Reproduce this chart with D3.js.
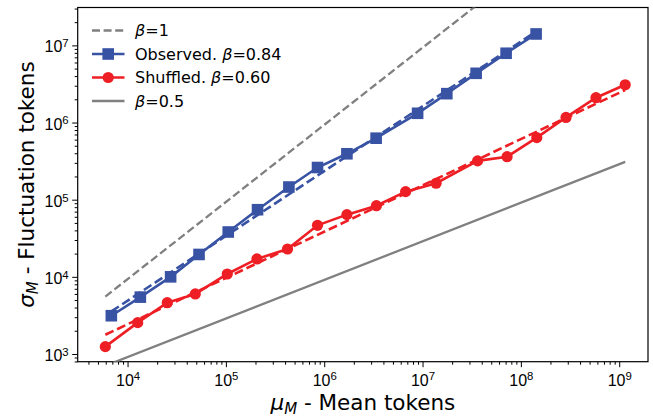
<!DOCTYPE html>
<html>
<head>
<meta charset="utf-8">
<script src="https://cdn.jsdelivr.net/npm/d3@7"></script>
<style>
  body { margin: 0; background: #fff; }
  svg { font-family: "DejaVu Sans", sans-serif; }
</style>
</head>
<body>
<svg id="chart" width="653" height="419"></svg>
<script>
// observed (blue squares)
const obsX = [6840, 13490, 27420, 53330, 105700, 209900, 437500, 855100, 1702000, 3373000,
              8913000, 17660000, 35080000, 70790000, 142900000];
const obsY = [3133, 5458, 10000, 19500, 38110, 74130, 145900, 261200, 393600, 626600,
              1318000, 2366000, 4345000, 7907000, 14060000];

// shuffled (red circles)
const shufX = [5943, 12680, 25350, 48870, 103300, 207000, 423600, 855100, 1702000, 3396000,
               6730000, 13740000, 36310000, 72440000, 145200000, 287700000, 580800000, 1151000000];
const shufY = [1245, 2547, 4624, 5998, 10890, 17060, 22960, 46560, 63970, 83560,
               127100, 163300, 318400, 360600, 636800, 1164000, 2099000, 3090000];

// power law guide / fit lines: sigma = pref * mu^beta
const fitNames = ["beta1", "obsFit", "shufFit", "beta05"];
const fitBeta = [1, 0.84, 0.60, 0.5];
const fitPref = [0.933, 2.138, 9.66, 9.12];
const fitFrom = [5943, 6840, 5943, 5943];
const fitTo = [1151000000, 142900000, 1151000000, 1151000000];

const xTickExp = [4, 5, 6, 7, 8, 9];
const yTickExp = [3, 4, 5, 6, 7];

const legendLabels = ["=1", "Observed. ", "Shuffled. ", "=0.5"];
const legendBeta = ["", "=0.84", "=0.60", ""];

const BLUE = "#3953a4", RED = "#ed1f24", GRAY = "#808080";

const svg = d3.select("#chart");
const pL = 77.7, pR = 648, pT = 7.5, pB = 361.7;

const x = d3.scaleLog().domain([Math.pow(10, 3.493), Math.pow(10, 9.293)]).range([pL, pR]);
const y = d3.scaleLog().domain([Math.pow(10, 2.900), Math.pow(10, 7.491)]).range([pB, pT]);

svg.append("defs").append("clipPath").attr("id", "clip")
  .append("rect").attr("x", pL).attr("y", pT)
  .attr("width", pR - pL).attr("height", pB - pT);

// minor ticks
function minors(scale) {
  const [a, b] = scale.domain();
  const out = [];
  for (let e = Math.floor(Math.log10(a)); e <= Math.ceil(Math.log10(b)); e++) {
    for (let m = 2; m <= 9; m++) {
      const v = m * Math.pow(10, e);
      if (v >= a && v <= b) out.push(v);
    }
  }
  return out;
}

const xMajor = xTickExp.map(e => Math.pow(10, e));
const yMajor = yTickExp.map(e => Math.pow(10, e));

function styleAxis(g) {
  g.select(".domain").remove();
  g.selectAll("line").attr("stroke", "#000").attr("stroke-width", 1);
}

svg.append("g").attr("transform", `translate(0,${pB})`)
  .call(d3.axisBottom(x).tickValues(minors(x)).tickSize(3).tickFormat(""))
  .call(styleAxis);
svg.append("g").attr("transform", `translate(${pL},0)`)
  .call(d3.axisLeft(y).tickValues(minors(y)).tickSize(3).tickFormat(""))
  .call(styleAxis);

const gx = svg.append("g").attr("transform", `translate(0,${pB})`)
  .call(d3.axisBottom(x).tickValues(xMajor).tickSize(5.5).tickFormat(""))
  .call(styleAxis);
gx.selectAll(".tick text").remove();
gx.selectAll(".tick").each(function (d) {
  const t = d3.select(this).append("text")
    .attr("y", 24).attr("text-anchor", "middle")
    .attr("fill", "#000").attr("font-size", 16);
  t.append("tspan").text("10");
  t.append("tspan").attr("font-size", 11.4).attr("dy", -5.5).text(Math.round(Math.log10(d)));
});

const gy = svg.append("g").attr("transform", `translate(${pL},0)`)
  .call(d3.axisLeft(y).tickValues(yMajor).tickSize(5.5).tickFormat(""))
  .call(styleAxis);
gy.selectAll(".tick text").remove();
gy.selectAll(".tick").each(function (d) {
  const t = d3.select(this).append("text")
    .attr("x", -9).attr("y", 6.6).attr("text-anchor", "end")
    .attr("fill", "#000").attr("font-size", 16);
  t.append("tspan").text("10");
  t.append("tspan").attr("font-size", 11.4).attr("dy", -5.2).text(Math.round(Math.log10(d)));
});

// frame
svg.append("rect").attr("x", pL).attr("y", pT)
  .attr("width", pR - pL).attr("height", pB - pT)
  .attr("fill", "none").attr("stroke", "#000").attr("stroke-width", 1.2);

const plot = svg.append("g").attr("clip-path", "url(#clip)");
const line = d3.line().x(d => x(d[0])).y(d => y(d[1]));

const fitStyle = {
  beta1:   { color: GRAY, width: 2.3, dash: "8,3.6" },
  obsFit:  { color: BLUE, width: 2.6, dash: "9,4" },
  shufFit: { color: RED,  width: 2.6, dash: "9,4" },
  beta05:  { color: GRAY, width: 2.3, dash: null }
};

fitNames.forEach((name, i) => {
  const pts = [fitFrom[i], fitTo[i]].map(v => [v, fitPref[i] * Math.pow(v, fitBeta[i])]);
  const s = fitStyle[name];
  plot.append("path").datum(pts)
    .attr("d", line).attr("fill", "none")
    .attr("stroke", s.color).attr("stroke-width", s.width)
    .attr("stroke-dasharray", s.dash);
});

const obs = obsX.map((v, i) => [v, obsY[i]]);
const shuf = shufX.map((v, i) => [v, shufY[i]]);

plot.append("path").datum(obs).attr("d", line)
  .attr("fill", "none").attr("stroke", BLUE).attr("stroke-width", 2.6);
plot.selectAll("rect.obs").data(obs).join("rect").attr("class", "obs")
  .attr("x", d => x(d[0]) - 5.8).attr("y", d => y(d[1]) - 5.8)
  .attr("width", 11.6).attr("height", 11.6).attr("fill", BLUE);

plot.append("path").datum(shuf).attr("d", line)
  .attr("fill", "none").attr("stroke", RED).attr("stroke-width", 2.6);
plot.selectAll("circle.shuf").data(shuf).join("circle").attr("class", "shuf")
  .attr("cx", d => x(d[0])).attr("cy", d => y(d[1])).attr("r", 5.6).attr("fill", RED);

// legend
const leg = svg.append("g");
const legStyle = [
  { color: GRAY, width: 2.3, dash: "8,3.6", marker: null },
  { color: BLUE, width: 2.6, dash: null, marker: "square" },
  { color: RED, width: 2.6, dash: null, marker: "circle" },
  { color: GRAY, width: 2.3, dash: null, marker: null }
];
legendLabels.forEach((lab, i) => {
  const ry = 30.5 + i * 23.5;
  const s = legStyle[i];
  leg.append("line").attr("x1", 92).attr("x2", 124.5).attr("y1", ry).attr("y2", ry)
    .attr("stroke", s.color).attr("stroke-width", s.width).attr("stroke-dasharray", s.dash);
  if (s.marker === "square") {
    leg.append("rect").attr("x", 108.2 - 5.8).attr("y", ry - 5.8)
      .attr("width", 11.6).attr("height", 11.6).attr("fill", s.color);
  } else if (s.marker === "circle") {
    leg.append("circle").attr("cx", 108.2).attr("cy", ry).attr("r", 5.6).attr("fill", s.color);
  }
  const t = leg.append("text").attr("x", 135).attr("y", ry + 5.8)
    .attr("font-size", 16).attr("fill", "#000");
  if (legendBeta[i]) {
    t.append("tspan").text(lab);
    t.append("tspan").attr("font-style", "italic").text("β");
    t.append("tspan").text(legendBeta[i]);
  } else {
    t.append("tspan").attr("font-style", "italic").text("β");
    t.append("tspan").text(lab);
  }
});

// axis labels
const xl = svg.append("text").attr("x", (pL + pR) / 2).attr("y", 410)
  .attr("text-anchor", "middle").attr("font-size", 21.5).attr("fill", "#000");
xl.append("tspan").attr("font-style", "italic").text("μ");
xl.append("tspan").attr("font-style", "italic").attr("font-size", 15).attr("dy", 4).text("M");
xl.append("tspan").attr("dy", -4).text(" - Mean tokens");

const yl = svg.append("text")
  .attr("transform", `translate(34,${(pT + pB) / 2}) rotate(-90)`)
  .attr("text-anchor", "middle").attr("font-size", 21.5).attr("fill", "#000");
yl.append("tspan").attr("font-style", "italic").text("σ");
yl.append("tspan").attr("font-style", "italic").attr("font-size", 15).attr("dy", 4).text("M");
yl.append("tspan").attr("dy", -4).text(" - Fluctuation tokens");
</script>
</body>
</html>
